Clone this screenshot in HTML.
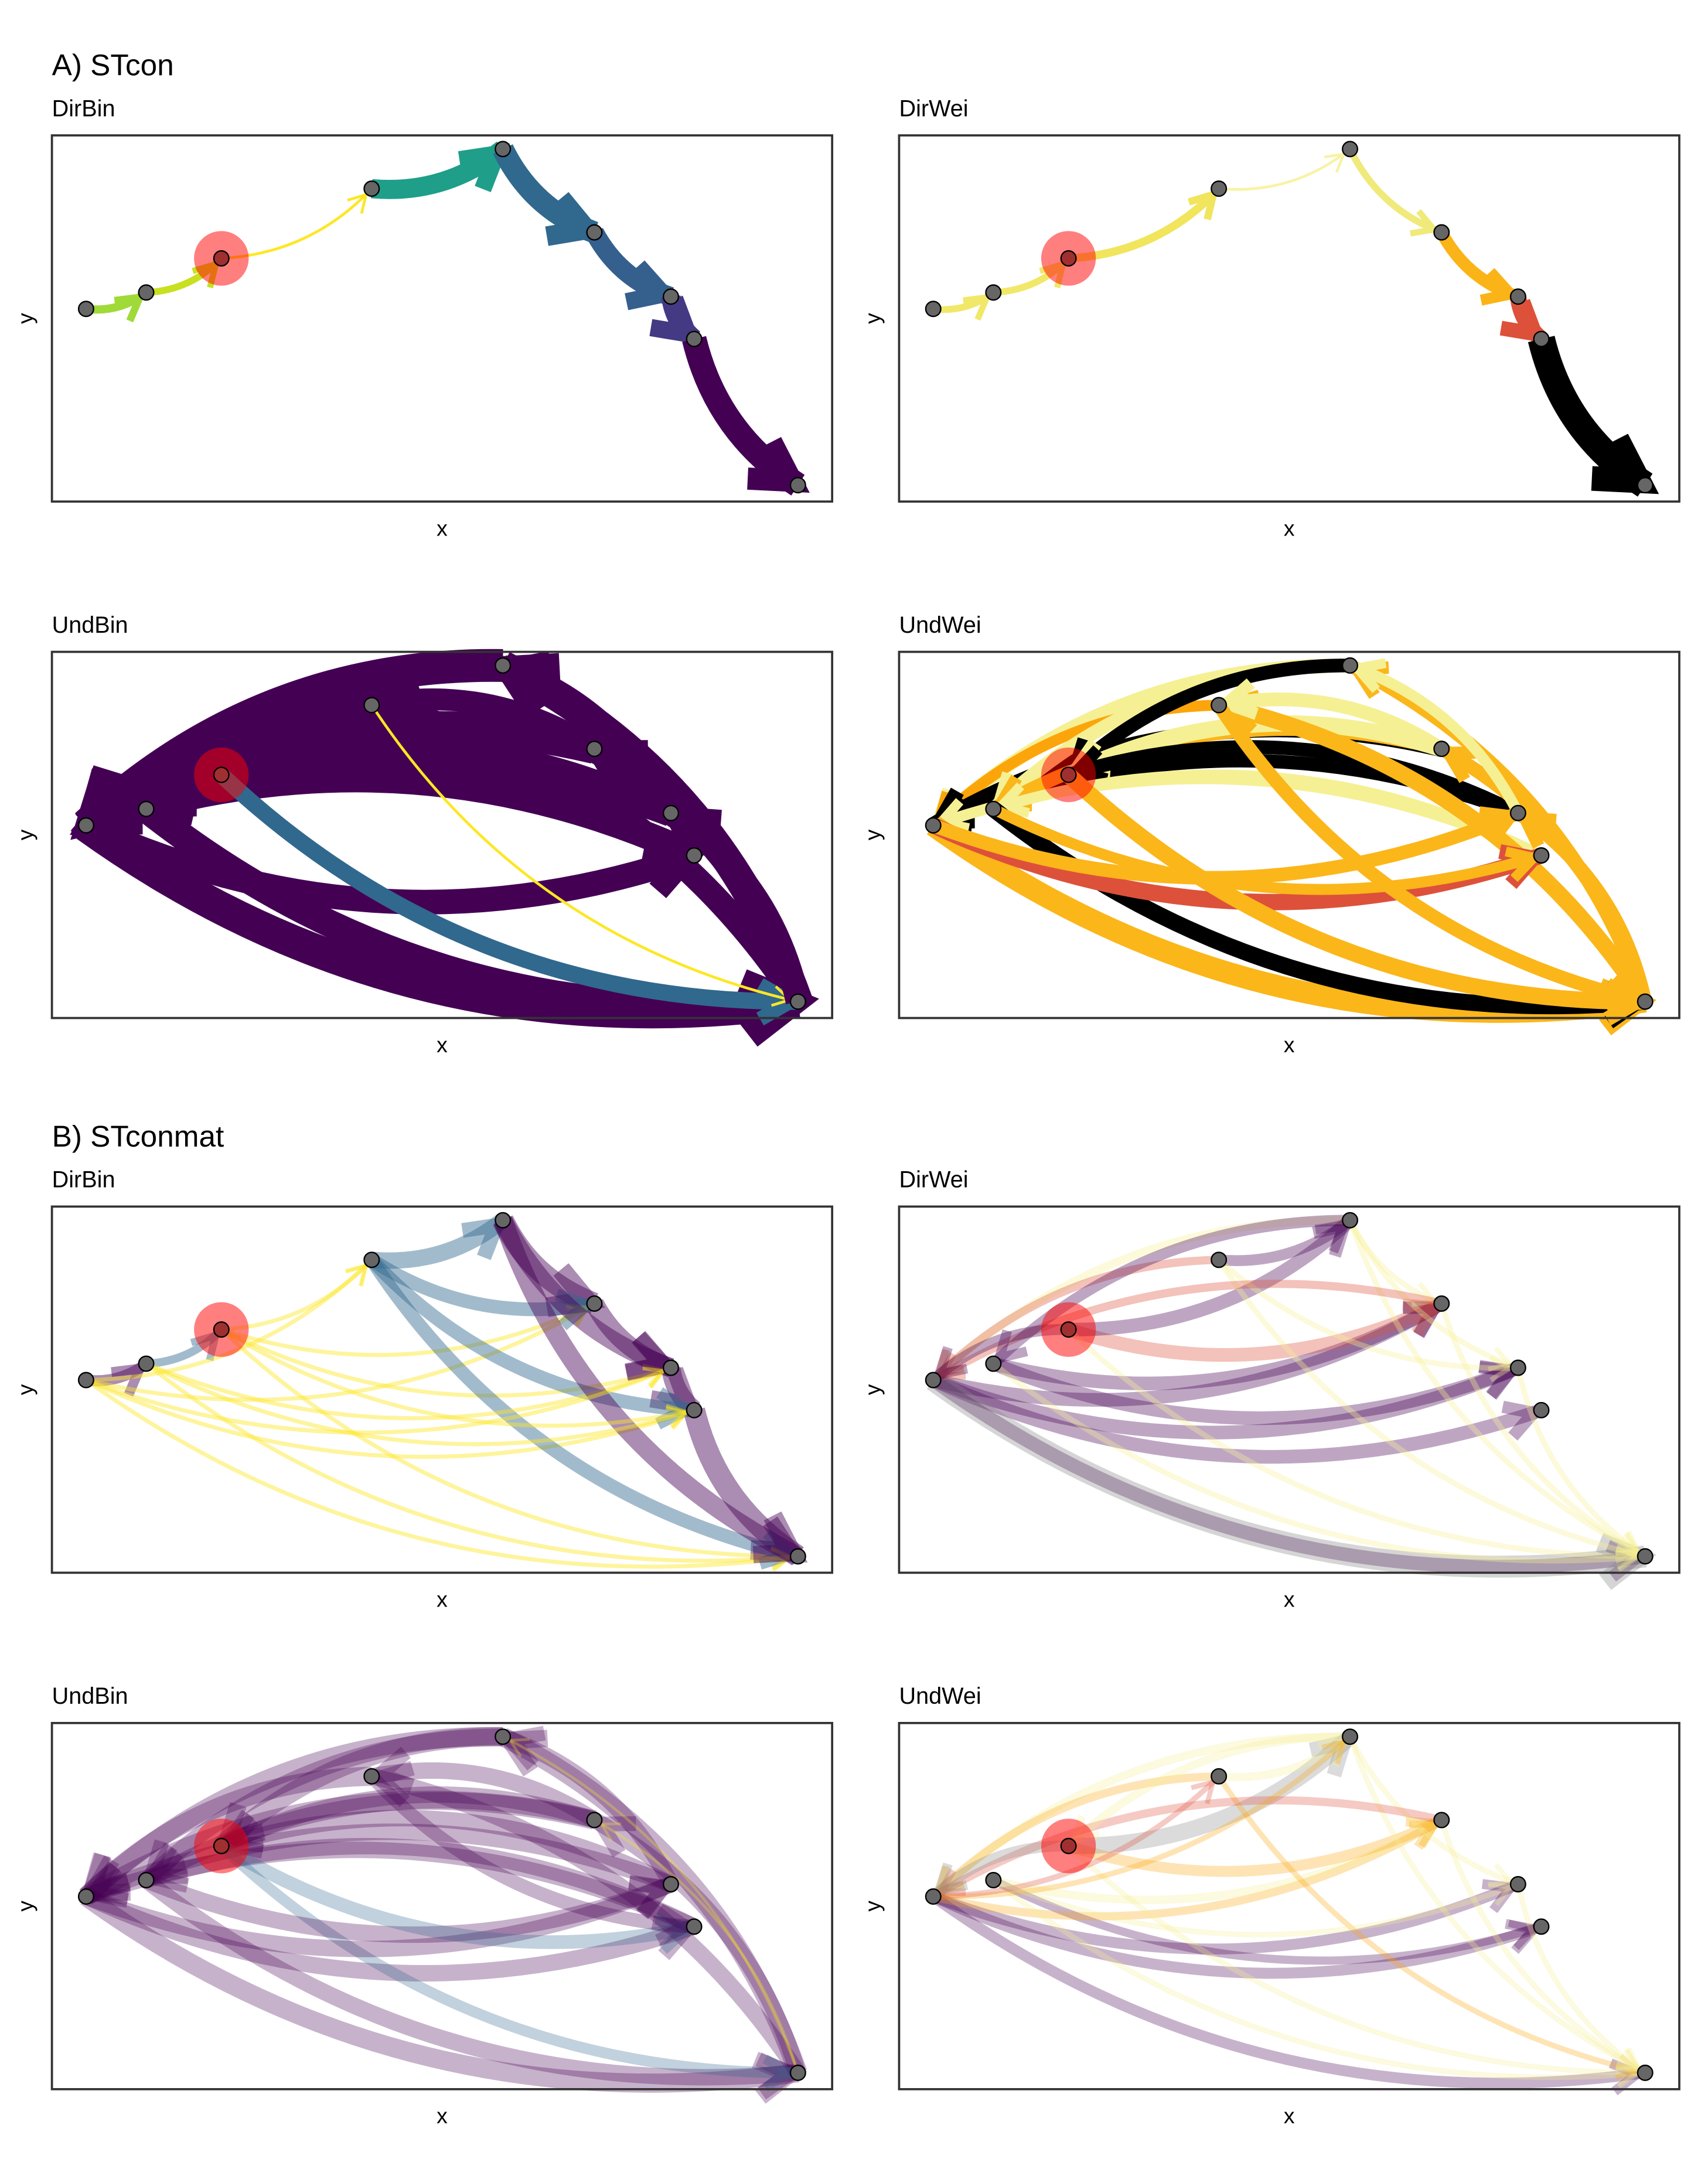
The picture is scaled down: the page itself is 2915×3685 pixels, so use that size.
<!DOCTYPE html>
<html><head><meta charset="utf-8">
<style>
html,body{margin:0;padding:0;background:#fff;}
svg{display:block;font-family:"Liberation Sans",sans-serif;}
</style></head>
<body>
<svg id="fig" width="2915" height="3685" viewBox="0 0 1250 1580" xmlns="http://www.w3.org/2000/svg">
<rect width="1250" height="1580" fill="#fff"/>
</svg>
<script>
// node positions (data coords, within panel: x right, y down)
const nodeX = [25, 69, 124, 234, 330, 397, 453, 470, 546];
const nodeY = [127, 115, 90, 39, 10, 71, 118, 149, 256];
const focusNode = 2;

// A DirBin
const aDirBinFrom = [0,1,2,3,4,5,6,7];
const aDirBinTo   = [1,2,3,4,5,6,7,8];
const aDirBinW    = [6,5,2,14,16,14,14,18];
const aDirBinC    = ['#a0da39','#c8e020','#fde725','#1f9e89','#31688e','#355f8d','#443983','#440154'];
// A DirWei
const aDirWeiFrom = [0,1,2,3,4,5,6,7];
const aDirWeiTo   = [1,2,3,4,5,6,7,8];
const aDirWeiW    = [5,5,6,2,5,9,12,20];
const aDirWeiC    = ['#f1e86a','#f1e86a','#f0e55c','#f8f3a5','#efea7a','#fbb417','#dd513a','#000000'];
// A UndBin
const aUndBinFrom = [4,3,5,6,7,4,5,4,5,6,7,8,8,8,5,6,0,1,0,2,3,8];
const aUndBinTo   = [0,0,0,0,0,1,1,2,2,2,1,4,5,3,3,4,8,8,7,8,8,6];
const aUndBinW    = [24,22,22,20,20,18,18,18,18,16,16,22,20,18,16,16,24,20,18,12,2,18];
const aUndBinC    = ['#440154','#440154','#440154','#440154','#440154','#440154','#440154','#440154','#440154','#440154','#440154','#440154','#440154','#440154','#440154','#440154','#440154','#440154','#440154','#31688e','#fde725','#440154'];
// A UndWei
const aUndWeiFrom = [4,3,5,6,7,4,5,4,5,6,7,8,8,8,5,6,0,1,0,2,3,8,0,1];
const aUndWeiTo   = [0,0,0,0,0,1,1,2,2,2,1,4,5,3,3,4,8,8,7,8,8,6,6,7];
const aUndWeiW    = [10,8,12,10,8,10,10,10,12,10,8,10,10,12,10,8,16,12,12,12,10,10,10,8];
const aUndWeiC    = ['#f6f094','#fca50a','#000000','#000000','#f6f094','#f6f094','#fbb61a','#000000','#f6f094','#000000','#f6f094','#fbb61a','#fbb61a','#fbb61a','#f6f094','#f6f094','#fbb61a','#000000','#dd513a','#fbb61a','#fbb61a','#fbb61a','#fbb61a','#fbb61a'];
// B DirBin
const bDirBinFrom = [0,1,2,3,4,5,6,7,0,0,0,0,2,2,2,3,3,3,1,1,4,4,0,2,1];
const bDirBinTo   = [1,2,3,4,5,6,7,8,3,5,7,8,5,6,8,5,7,8,6,8,6,8,6,7,7];
const bDirBinW    = [8,6,3,12,16,14,14,16,3,3,3,3,3,3,3,10,10,10,3,3,14,14,3,3,3];
const bDirBinC    = ['#440154','#31688e','#fde725','#31688e','#440154','#440154','#440154','#440154','#fde725','#fde725','#fde725','#fde725','#fde725','#fde725','#fde725','#31688e','#31688e','#31688e','#fde725','#fde725','#440154','#440154','#fde725','#fde725','#fde725'];
// B DirWei
const bDirWeiFrom = [0,0,0,0,0,1,1,2,2,3,1,2,3,4,5,6,3,4,4,4,3,5,2,4];
const bDirWeiTo   = [5,6,7,8,8,5,6,5,4,4,8,8,8,8,8,8,6,6,5,0,0,0,0,1];
const bDirWeiW    = [10,10,10,10,16,10,10,10,10,8,4,4,4,4,4,4,4,4,4,6,6,6,8,8];
const bDirWeiC    = ['#440154','#440154','#440154','#440154','#888888','#440154','#440154','#dd513a','#440154','#440154','#f6f094','#f6f094','#f6f094','#f6f094','#f6f094','#f6f094','#f6f094','#f6f094','#f6f094','#f6f094','#dd513a','#dd513a','#440154','#440154'];
// B UndBin
const bUndBinFrom = [4,3,5,6,7,4,5,4,5,6,7,8,8,8,5,6,0,1,0,2,0,1,2,3,8,8];
const bUndBinTo   = [0,0,0,0,0,1,1,2,2,2,1,4,5,3,3,4,8,8,7,8,6,6,7,7,5,4];
const bUndBinW    = [14,14,14,12,12,12,12,14,12,12,12,14,12,12,12,12,14,12,12,8,12,12,10,10,2,2];
const bUndBinC    = ['#440154','#440154','#440154','#440154','#440154','#440154','#440154','#440154','#440154','#440154','#440154','#440154','#440154','#440154','#440154','#440154','#440154','#440154','#440154','#31688e','#440154','#440154','#31688e','#440154','#fde725','#fde725'];
// B UndWei
const bUndWeiFrom = [0,0,0,1,0,1,2,2,3,1,2,3,4,5,6,4,4,3,5,2,4,0,0,1];
const bUndWeiTo   = [6,7,8,7,5,5,5,4,4,8,8,8,8,8,8,6,0,0,0,0,2,4,3,6];
const bUndWeiW    = [8,8,8,6,6,6,8,12,6,4,4,4,4,4,4,4,6,6,6,8,6,4,4,4];
const bUndWeiC    = ['#440154','#440154','#440154','#440154','#fca50a','#f6f094','#fca50a','#888888','#f6f094','#f6f094','#f6f094','#fca50a','#f6f094','#f6f094','#f6f094','#f6f094','#f6f094','#fca50a','#dd513a','#888888','#f6f094','#fca50a','#dd513a','#f6f094'];

const NS='http://www.w3.org/2000/svg';
const svg=document.getElementById('fig');
function mk(tag,attrs,parent){const e=document.createElementNS(NS,tag);for(const k in attrs)e.setAttribute(k,attrs[k]);(parent||svg).appendChild(e);return e;}
function txt(x,y,s,size,name,extra){const t=mk('text',Object.assign({x:x,y:y,'font-size':size,fill:'#000'},extra||{}));t.textContent=s;


return t;}

txt(38,55,'A) STcon',22,'section-title-a');
txt(38,839,'B) STconmat',22,'section-title-b');

function panel(name,title,px,py,from,to,w,col,op){
  const PW=571,PH=268;
  const g=mk('g',{transform:'translate('+px+','+py+')'});
  
  
  txt(px,py-14,title,17,name+'-title');
  txt(px+PW/2,py+PH+25,'x',16,name+'-x-axis-title',{'text-anchor':'middle'});
  txt(0,0,'y',16,name+'-y-axis-title',{'text-anchor':'middle',transform:'translate('+(px-14)+','+(py+PH/2)+') rotate(-90)'});
  const eg=mk('g',{},g);
  for(let i=0;i<from.length;i++){
    const x1=nodeX[from[i]],y1=nodeY[from[i]],x2=nodeX[to[i]],y2=nodeY[to[i]];
    const dx=x2-x1,dy=y2-y1,k=0.2;
    const cx=(x1+x2)/2-dy*k, cy=(y1+y2)/2+dx*k;
    const p=mk('path',{d:'M'+x1+','+y1+' Q'+cx+','+cy+' '+x2+','+y2,fill:'none',stroke:col[i],'stroke-width':w[i],'stroke-opacity':op},eg);
    
    
    let tx=x2-cx,ty=y2-cy;const L=Math.hypot(tx,ty)||1;tx/=L;ty/=L;
    const ex=x2-tx*6,ey=y2-ty*6;
    const al=12+w[i]*1.1;
    const ang=Math.PI/6;
    const c=Math.cos(ang),s=Math.sin(ang);
    const ax1=ex-al*(tx*c-ty*s),ay1=ey-al*(ty*c+tx*s);
    const ax2=ex-al*(tx*c+ty*s),ay2=ey-al*(ty*c-tx*s);
    const a=mk('polyline',{points:ax1+','+ay1+' '+ex+','+ey+' '+ax2+','+ay2,fill:'none',stroke:col[i],'stroke-width':Math.max(2,w[i]*0.9),'stroke-linejoin':'miter','stroke-opacity':op},eg);
    
    
  }
  const hl=mk('circle',{cx:nodeX[focusNode],cy:nodeY[focusNode],r:20,fill:'#ff0000','fill-opacity':0.5},g);
  
  
  for(let i=0;i<nodeX.length;i++){
    const n=mk('circle',{cx:nodeX[i],cy:nodeY[i],r:5.5,fill:i===focusNode?'#a03030':'#666',stroke:'#000','stroke-width':1},g);
    
    
  }
  const fr=mk('rect',{x:0,y:0,width:PW,height:PH,fill:'none',stroke:'#333','stroke-width':1.6},g);
  
  
}
panel('a-dirbin','DirBin',38,99,aDirBinFrom,aDirBinTo,aDirBinW,aDirBinC,1);
panel('a-dirwei','DirWei',658,99,aDirWeiFrom,aDirWeiTo,aDirWeiW,aDirWeiC,1);
panel('a-undbin','UndBin',38,477,aUndBinFrom,aUndBinTo,aUndBinW,aUndBinC,1);
panel('a-undwei','UndWei',658,477,aUndWeiFrom,aUndWeiTo,aUndWeiW,aUndWeiC,1);
panel('b-dirbin','DirBin',38,883,bDirBinFrom,bDirBinTo,bDirBinW,bDirBinC,0.45);
panel('b-dirwei','DirWei',658,883,bDirWeiFrom,bDirWeiTo,bDirWeiW,bDirWeiC,0.35);
panel('b-undbin','UndBin',38,1261,bUndBinFrom,bUndBinTo,bUndBinW,bUndBinC,0.3);
panel('b-undwei','UndWei',658,1261,bUndWeiFrom,bUndWeiTo,bUndWeiW,bUndWeiC,0.3);
</script>
</body></html>
